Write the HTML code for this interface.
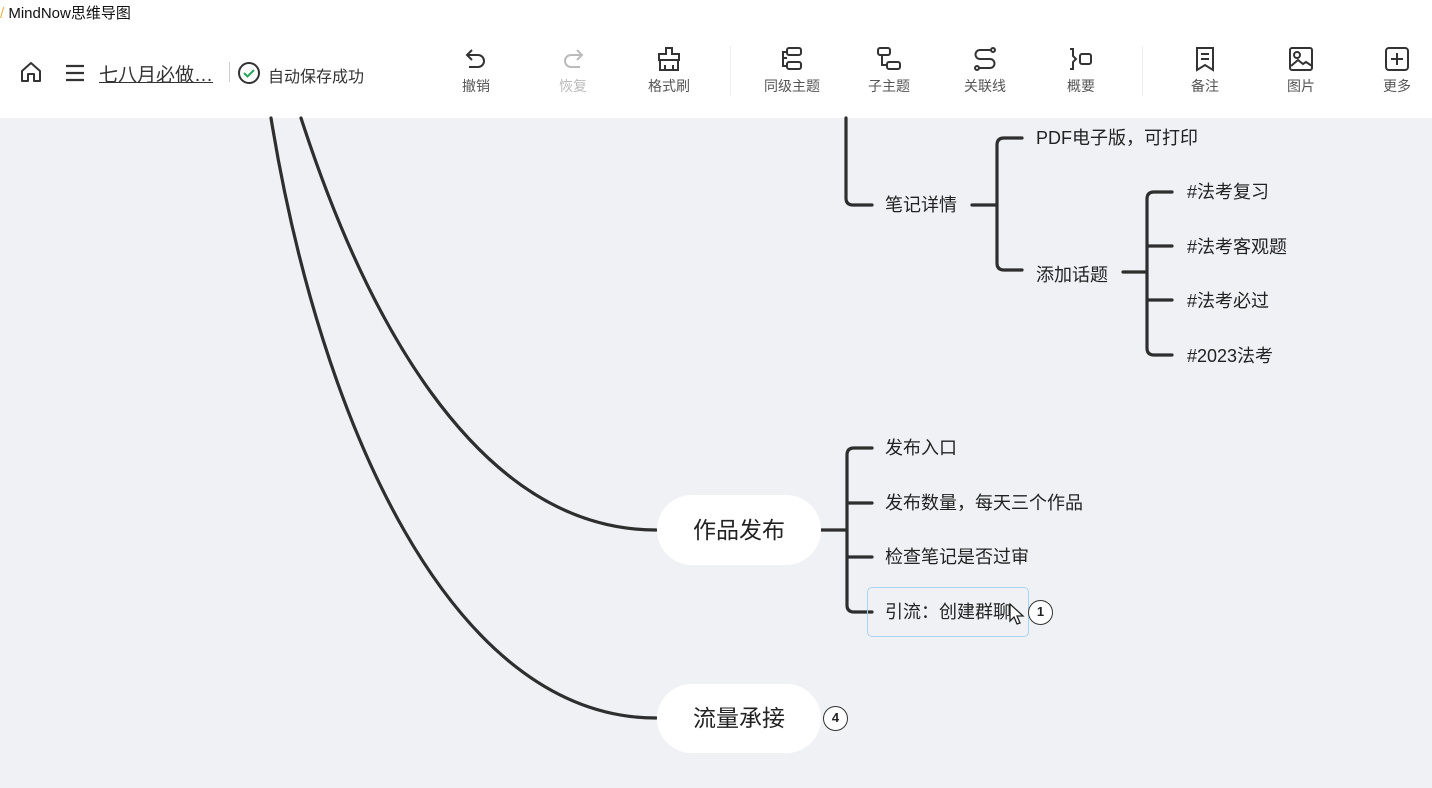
<!DOCTYPE html>
<html><head><meta charset="utf-8"><style>
*{margin:0;padding:0;box-sizing:border-box}
body{width:1432px;height:788px;overflow:hidden;background:#f0f1f5;font-family:"Liberation Sans","Noto Sans CJK SC",sans-serif;position:relative;color:#222}
.top{position:absolute;left:0;top:0;width:1432px;height:118px;background:#fff}
.t{position:absolute;white-space:nowrap}
.tb{position:absolute;top:46px;width:80px;text-align:center;font-size:14px;color:#555}
.tb svg{display:block;margin:0 auto 4px}
.lbl{position:absolute;font-size:18px;color:#222;white-space:nowrap;line-height:20px}
.pill{position:absolute;background:#fff;border-radius:35px;font-size:23px;text-align:center;color:#222}
.badge{position:absolute;width:25px;height:25px;border:1.6px solid #333;border-radius:50%;background:#fff;font-size:13px;font-weight:bold;text-align:center;line-height:22px}
</style></head><body>
<div class="top">
<div class="t" style="left:0;top:2px;font-size:15px;color:#111"><span style="color:#e8b64a">/</span> MindNow思维导图</div>
<svg class="t" style="left:19px;top:60px" width="24" height="24" viewBox="0 0 24 24" fill="none" stroke="#333" stroke-width="2"><path d="M3 11 L12 3 L21 11 V21 H15 V14 H9 V21 H3 Z" stroke-linejoin="round"/></svg>
<svg class="t" style="left:65px;top:64px" width="20" height="18" viewBox="0 0 20 18" stroke="#333" stroke-width="2.2"><path d="M1 2H19M1 9H19M1 16H19"/></svg>
<div class="t" style="left:99px;top:60px;font-size:19px;color:#333;text-decoration:underline">七八月必做…</div>
<div class="t" style="left:229px;top:62px;width:1px;height:20px;background:#ccc"></div>
<svg class="t" style="left:237px;top:61px" width="24" height="24" viewBox="0 0 24 24" fill="none"><circle cx="12" cy="12" r="10" stroke="#333" stroke-width="2"/><path d="M7 12l3.5 3.5L17 9" stroke="#27a55a" stroke-width="2"/></svg>
<div class="t" style="left:268px;top:63px;font-size:16px;color:#333">自动保存成功</div>

<div class="tb" style="left:436px"><svg width="26" height="26" viewBox="0 0 26 26" fill="none" stroke="#333" stroke-width="2"><path d="M9 4L4 9l5 5M4 9h11a6 6 0 010 12H6"/></svg>撤销</div>
<div class="tb" style="left:533px;color:#bbb"><svg width="26" height="26" viewBox="0 0 26 26" fill="none" stroke="#bbb" stroke-width="2"><path d="M17 4l5 5-5 5M22 9H11a6 6 0 000 12h9"/></svg>恢复</div>
<div class="tb" style="left:629px"><svg width="26" height="26" viewBox="0 0 26 26" fill="none" stroke="#333" stroke-width="2"><path d="M10 2h6v6h7v6H3V8h7z M4 14v10h18V14 M9 24v-5M17 24v-5"/></svg>格式刷</div>
<div class="t" style="left:730px;top:46px;width:1px;height:50px;background:#eee"></div>
<div class="tb" style="left:752px"><svg width="26" height="26" viewBox="0 0 26 26" fill="none" stroke="#333" stroke-width="2"><rect x="8" y="2" width="14" height="7" rx="2"/><rect x="8" y="16" width="14" height="7" rx="2"/><path d="M8 6H4v14h4M4 12h4"/></svg>同级主题</div>
<div class="tb" style="left:849px"><svg width="26" height="26" viewBox="0 0 26 26" fill="none" stroke="#333" stroke-width="2"><rect x="2" y="2" width="12" height="7" rx="2"/><rect x="11" y="16" width="13" height="7" rx="2"/><path d="M6 9v10h5"/></svg>子主题</div>
<div class="tb" style="left:945px"><svg width="26" height="26" viewBox="0 0 26 26" fill="none" stroke="#333" stroke-width="2"><circle cx="21" cy="4" r="2"/><circle cx="5" cy="22" r="2"/><path d="M19 4H8a4 4 0 000 9h10a4 4 0 010 9H7"/></svg>关联线</div>
<div class="tb" style="left:1041px"><svg width="26" height="26" viewBox="0 0 26 26" fill="none" stroke="#333" stroke-width="2"><path d="M2 3h3v7l3 3-3 3v7H2"/><rect x="12" y="8" width="11" height="10" rx="2"/></svg>概要</div>
<div class="t" style="left:1142px;top:46px;width:1px;height:50px;background:#eee"></div>
<div class="tb" style="left:1165px"><svg width="26" height="26" viewBox="0 0 26 26" fill="none" stroke="#333" stroke-width="2"><path d="M5 2h16v22l-8-5-8 5z M9 8h8M9 13h8"/></svg>备注</div>
<div class="tb" style="left:1261px"><svg width="26" height="26" viewBox="0 0 26 26" fill="none" stroke="#333" stroke-width="2"><rect x="2" y="2" width="22" height="22" rx="2"/><circle cx="9" cy="9" r="3"/><path d="M3 20l7-6 5 4 3-2 6 4"/></svg>图片</div>
<div class="tb" style="left:1357px"><svg width="26" height="26" viewBox="0 0 26 26" fill="none" stroke="#333" stroke-width="2"><rect x="2" y="2" width="22" height="22" rx="3"/><path d="M13 7v12M7 13h12"/></svg>更多</div>
</div>

<svg class="t" style="left:0;top:0" width="1432" height="788" fill="none" stroke="#2e2e2e" stroke-width="3.2" stroke-linecap="round">
<path d="M271 118 C320 420 450 718 656 718"/>
<path d="M301 118 C360 300 470 530 656 530"/>
<path d="M846 118 V198 Q846 205 853 205 H872"/>
<path d="M972 205 H997 M1022 138 H1004 Q997 138 997 145 V263 Q997 270 1004 270 H1022"/>
<path d="M1123 272 H1147 M1172 192 H1154 Q1147 192 1147 199 V348 Q1147 355 1154 355 H1172 M1147 246 H1172 M1147 300 H1172"/>
<path d="M820 530 H847 M872 448 H854 Q847 448 847 455 V605 Q847 612 854 612 H872 M847 503 H872 M847 557 H872"/>
</svg>

<div class="lbl" style="left:885px;top:195px">笔记详情</div>
<div class="lbl" style="left:1036px;top:128px">PDF电子版，可打印</div>
<div class="lbl" style="left:1036px;top:265px">添加话题</div>
<div class="lbl" style="left:1187px;top:182px">#法考复习</div>
<div class="lbl" style="left:1187px;top:237px">#法考客观题</div>
<div class="lbl" style="left:1187px;top:291px">#法考必过</div>
<div class="lbl" style="left:1187px;top:346px">#2023法考</div>

<div class="pill" style="left:657px;top:495px;width:164px;height:70px;line-height:70px">作品发布</div>
<div class="pill" style="left:657px;top:684px;width:164px;height:69px;line-height:69px">流量承接</div>

<div class="lbl" style="left:885px;top:438px">发布入口</div>
<div class="lbl" style="left:885px;top:493px">发布数量，每天三个作品</div>
<div class="lbl" style="left:885px;top:547px">检查笔记是否过审</div>
<div class="t" style="left:867px;top:587px;width:162px;height:50px;border:1.5px solid #a8d4f0;border-radius:5px"></div>
<div class="lbl" style="left:885px;top:602px">引流：创建群聊</div>
<svg class="t" style="left:1009px;top:603px" width="16" height="22" viewBox="0 0 16 22"><path d="M1 1v17l4-4 3 7 3-1-3-7h6z" fill="#fff" stroke="#222" stroke-width="1.3"/></svg>
<div class="badge" style="left:1028px;top:600px">1</div>
<div class="badge" style="left:823px;top:706px">4</div>
</body></html>
